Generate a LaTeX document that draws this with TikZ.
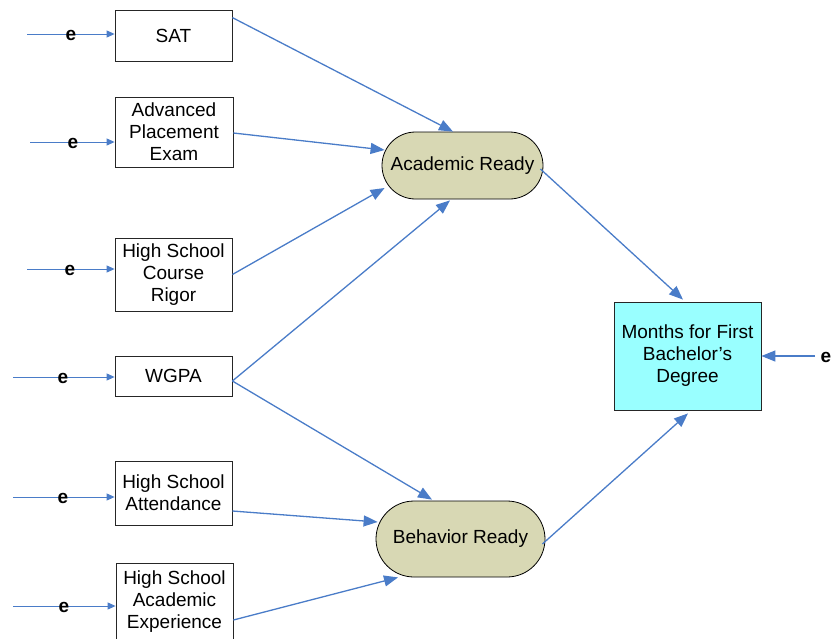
\documentclass[tikz,border=0pt]{standalone}
\usepackage{fontspec}
\setmainfont{Liberation Sans}
\usetikzlibrary{arrows.meta,calc}
\definecolor{lineblue}{HTML}{4A7CC8}
\definecolor{latfill}{HTML}{D8D8B4}
\definecolor{cyanfill}{HTML}{99FFFF}
\begin{document}
\begin{tikzpicture}[x=1pt,y=-1pt,
 box/.style={draw=black!85,line width=0.8pt,fill=white,inner sep=0pt,align=center,font=\fontsize{19}{22}\selectfont},
 lat/.style={draw=black,line width=0.8pt,fill=latfill,rounded corners=#1,inner sep=0pt,font=\fontsize{19}{22}\selectfont},
 conn/.style={draw=lineblue,line width=1.3pt,-{Triangle[length=14pt,width=11pt]}},
 econn/.style={draw=lineblue,line width=1pt,-{Triangle[length=8pt,width=7pt]}},
 elab/.style={font=\fontsize{19}{22}\selectfont\bfseries,inner sep=0pt}
]
\useasboundingbox (0,0) rectangle (832,638);

\node[box,minimum width=117pt,minimum height=51pt] (sat) at (173.5,35.5) {SAT};
\node[box,minimum width=118pt,minimum height=70pt] (ap) at (174,132) {Advanced\\Placement\\Exam};
\node[box,minimum width=117pt,minimum height=73pt] (hscr) at (173.5,274.5) {High School\\Course\\Rigor};
\node[box,minimum width=117pt,minimum height=40pt] (wgpa) at (173.5,376) {WGPA};
\node[box,minimum width=117pt,minimum height=64pt] (hsa) at (173.5,493) {High School\\Attendance};
\node[box,minimum width=117pt,minimum height=77pt] (hsae) at (174.5,601.5) {High School\\Academic\\Experience};
\node[lat=33.5pt,minimum width=161pt,minimum height=67pt] (ar) at (462.5,165.5) {Academic Ready};
\node[lat=38pt,minimum width=169pt,minimum height=76pt] (br) at (460.5,539) {Behavior Ready};
\node[box,fill=cyanfill,minimum width=147pt,minimum height=108pt] (mo) at (687.5,356) {Months for First\\Bachelor’s\\Degree};

% error terms
\coordinate (e1) at (27,34);
\coordinate (e2) at (30,142);
\coordinate (e3) at (27,269);
\coordinate (e4) at (13,377);
\coordinate (e5) at (13,497);
\coordinate (e6) at (13,606);
\coordinate (e7) at (815,356);
\draw[econn] (e1) -- (sat.west |- e1);
\draw[econn] (e2) -- (ap.west |- e2);
\draw[econn] (e3) -- (hscr.west |- e3);
\draw[econn] (e4) -- (wgpa.west |- e4);
\draw[econn] (e5) -- (hsa.west |- e5);
\draw[econn] (e6) -- (hsae.west |- e6);
\draw[conn] (e7) -- (mo.east |- e7);
\node[elab] (le1) at (71,35) {e};
\node[elab] (le2) at (73,143) {e};
\node[elab] (le3) at (70,270) {e};
\node[elab] (le4) at (63,378) {e};
\node[elab] (le5) at (63,498) {e};
\node[elab] (le6) at (64,607) {e};
\node[elab] (le7) at (826,357) {e};

% paths
\draw[conn] ($(sat.north east)+(0,8)$) -- ($(ar.north)+(-9.5,0)$);
\draw[conn] ($(ap.east)+(0,1)$) -- ($(ar.west)+(3,-15.5)$);
\draw[conn] (hscr.east) -- ($(ar.west)+(3,22.5)$);
\draw[conn] ($(wgpa.east)+(0,5)$) -- ($(ar.south)+(-12.5,1)$);
\draw[conn] ($(wgpa.east)+(0,5)$) -- ($(br.north)+(-28.5,-1)$);
\draw[conn] ($(hsa.east)+(0,18)$) -- ($(br.west)+(2,-17)$);
\draw[conn] ($(hsae.east)+(0,18.5)$) -- ($(br.south)+(-62.5,0)$);
\draw[conn] ($(ar.east)+(-3,3.5)$) -- ($(mo.north)+(-4.5,-2)$);
\draw[conn] ($(br.east)+(-3,5)$) -- ($(mo.south)+(0.5,3)$);
\end{tikzpicture}
\end{document}
